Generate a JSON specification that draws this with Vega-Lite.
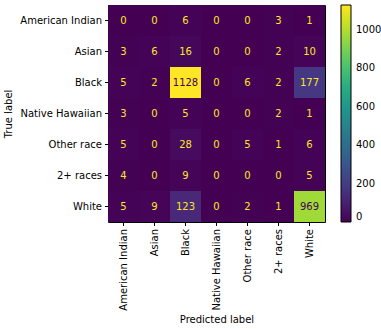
{
  "$schema": "https://vega.github.io/schema/vega-lite/v6.json",
  "width": 217,
  "height": 217,
  "autosize": {"type": "none"},
  "padding": {"left": 108, "top": 5, "right": 56, "bottom": 107},
  "background": "white",
  "config": {
    "font": "DejaVu Sans",
    "view": {"stroke": "black", "strokeWidth": 1},
    "axis": {"labelFont": "DejaVu Sans", "titleFont": "DejaVu Sans", "labelFontSize": 10, "titleFontSize": 10, "labelColor": "black", "titleColor": "black", "tickColor": "black", "domain": false, "tickSize": 3.5, "titleFontWeight": "normal", "grid": false}
  },
  "data": {"values": [
    {"t": "American Indian", "p": "American Indian", "v": 0},
    {"t": "American Indian", "p": "Asian", "v": 0},
    {"t": "American Indian", "p": "Black", "v": 6},
    {"t": "American Indian", "p": "Native Hawaiian", "v": 0},
    {"t": "American Indian", "p": "Other race", "v": 0},
    {"t": "American Indian", "p": "2+ races", "v": 3},
    {"t": "American Indian", "p": "White", "v": 1},
    {"t": "Asian", "p": "American Indian", "v": 3},
    {"t": "Asian", "p": "Asian", "v": 6},
    {"t": "Asian", "p": "Black", "v": 16},
    {"t": "Asian", "p": "Native Hawaiian", "v": 0},
    {"t": "Asian", "p": "Other race", "v": 0},
    {"t": "Asian", "p": "2+ races", "v": 2},
    {"t": "Asian", "p": "White", "v": 10},
    {"t": "Black", "p": "American Indian", "v": 5},
    {"t": "Black", "p": "Asian", "v": 2},
    {"t": "Black", "p": "Black", "v": 1128},
    {"t": "Black", "p": "Native Hawaiian", "v": 0},
    {"t": "Black", "p": "Other race", "v": 6},
    {"t": "Black", "p": "2+ races", "v": 2},
    {"t": "Black", "p": "White", "v": 177},
    {"t": "Native Hawaiian", "p": "American Indian", "v": 3},
    {"t": "Native Hawaiian", "p": "Asian", "v": 0},
    {"t": "Native Hawaiian", "p": "Black", "v": 5},
    {"t": "Native Hawaiian", "p": "Native Hawaiian", "v": 0},
    {"t": "Native Hawaiian", "p": "Other race", "v": 0},
    {"t": "Native Hawaiian", "p": "2+ races", "v": 2},
    {"t": "Native Hawaiian", "p": "White", "v": 1},
    {"t": "Other race", "p": "American Indian", "v": 5},
    {"t": "Other race", "p": "Asian", "v": 0},
    {"t": "Other race", "p": "Black", "v": 28},
    {"t": "Other race", "p": "Native Hawaiian", "v": 0},
    {"t": "Other race", "p": "Other race", "v": 5},
    {"t": "Other race", "p": "2+ races", "v": 1},
    {"t": "Other race", "p": "White", "v": 6},
    {"t": "2+ races", "p": "American Indian", "v": 4},
    {"t": "2+ races", "p": "Asian", "v": 0},
    {"t": "2+ races", "p": "Black", "v": 9},
    {"t": "2+ races", "p": "Native Hawaiian", "v": 0},
    {"t": "2+ races", "p": "Other race", "v": 0},
    {"t": "2+ races", "p": "2+ races", "v": 0},
    {"t": "2+ races", "p": "White", "v": 5},
    {"t": "White", "p": "American Indian", "v": 5},
    {"t": "White", "p": "Asian", "v": 9},
    {"t": "White", "p": "Black", "v": 123},
    {"t": "White", "p": "Native Hawaiian", "v": 0},
    {"t": "White", "p": "Other race", "v": 2},
    {"t": "White", "p": "2+ races", "v": 1},
    {"t": "White", "p": "White", "v": 969}
  ]},
  "encoding": {
    "x": {"field": "p", "type": "nominal", "sort": ["American Indian", "Asian", "Black", "Native Hawaiian", "Other race", "2+ races", "White"], "scale": {"paddingInner": 0, "paddingOuter": 0}, "axis": {"title": "Predicted label", "labelAngle": -90, "labelPadding": 3, "titlePadding": 4}},
    "y": {"field": "t", "type": "nominal", "sort": ["American Indian", "Asian", "Black", "Native Hawaiian", "Other race", "2+ races", "White"], "scale": {"paddingInner": 0, "paddingOuter": 0}, "axis": {"title": "True label", "labelPadding": 3, "titlePadding": 6}}
  },
  "layer": [
    {
      "mark": {"type": "rect"},
      "encoding": {
        "color": {"field": "v", "type": "quantitative", "scale": {"scheme": "viridis", "domain": [0, 1128]},
          "legend": {"type": "gradient", "title": null, "orient": "right", "direction": "vertical", "offset": 16, "gradientLength": 217, "gradientThickness": 10, "values": [0, 200, 400, 600, 800, 1000], "format": "d", "labelFontSize": 10, "labelColor": "black", "labelFont": "DejaVu Sans", "labelBaseline": "middle", "gradientStrokeColor": "black", "gradientStrokeWidth": 1, "labelOffset": 5, "padding": 0,
            "encoding": {"labels": {"enter": {"baseline": {"value": "middle"}}, "update": {"baseline": {"value": "middle"}}}}}}
      }
    },
    {
      "mark": {"type": "text", "fontSize": 10, "font": "DejaVu Sans"},
      "encoding": {
        "text": {"field": "v", "type": "quantitative"},
        "color": {"condition": {"test": "datum.v > 564", "value": "#440154"}, "value": "#fde725"}
      }
    }
  ]
}
